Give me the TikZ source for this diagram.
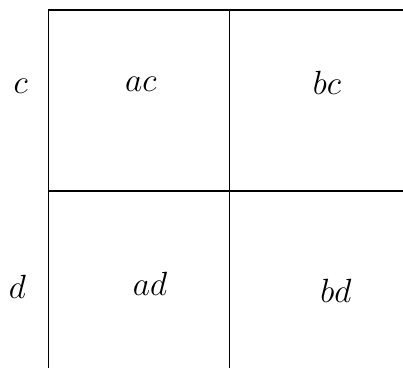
\documentclass[tikz,border=0pt]{standalone}
\begin{document}
\begin{tikzpicture}[lbl/.style={font=\fontsize{11.5}{14}\selectfont}]
        \useasboundingbox (0,0) rectangle (5.062,4.622);
        \draw (0.609,0) -- (0.609,4.496) -- (5.062,4.496);
        \draw (2.883,0) -- (2.883,4.496);
        \draw (0.609,2.223) -- (5.062,2.223);
        \node[lbl] (c) at (0.260,3.542) {$c$};
        \node[lbl] (d) at (0.220,1.024) {$d$};
        \node[lbl] (ac) at (1.770,3.560) {$ac$};
        \node[lbl] (bc) at (4.107,3.580) {$bc$};
        \node[lbl] (ad) at (1.884,1.055) {$ad$};
        \node[lbl] (bd) at (4.220,0.973) {$bd$};
    \end{tikzpicture}
\end{document}
